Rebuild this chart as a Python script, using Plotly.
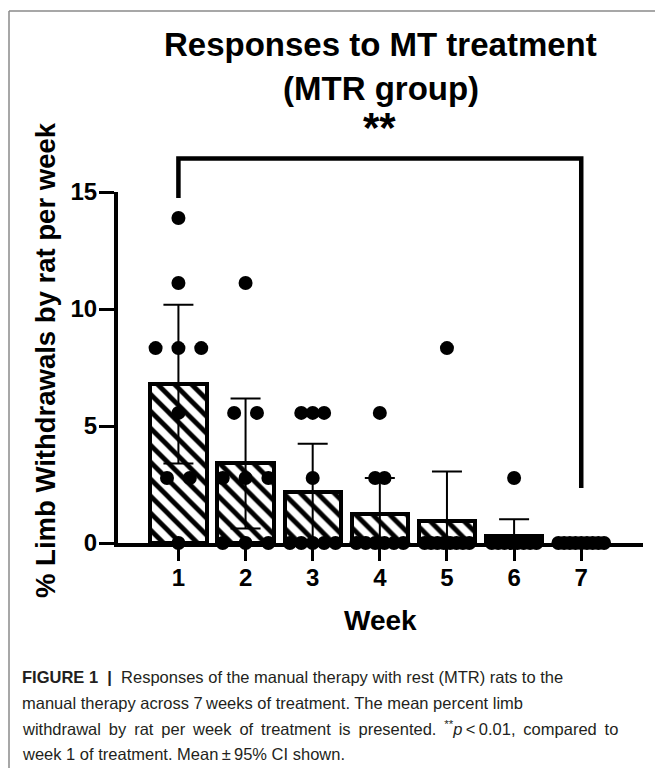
import plotly.graph_objects as go

# ---------------- data ----------------
weeks = [1, 2, 3, 4, 5, 6, 7]
week_labels = ["1", "2", "3", "4", "5", "6", "7"]
# individual rat values (% limb withdrawals) per week
rats_w1 = [13.89, 11.11, 8.33, 8.33, 8.33, 5.56, 2.78, 2.78, 0]
rats_w2 = [11.11, 5.56, 5.56, 2.78, 2.78, 2.78, 0, 0, 0]
rats_w3 = [5.56, 5.56, 5.56, 2.78, 0, 0, 0, 0, 0]
rats_w4 = [5.56, 2.78, 2.78, 0, 0, 0, 0, 0, 0]
rats_w5 = [8.33, 0, 0, 0, 0, 0, 0, 0, 0]
rats_w6 = [2.78, 0, 0, 0, 0, 0, 0, 0, 0]
rats_w7 = [0, 0, 0, 0, 0, 0, 0, 0, 0]
rats = [rats_w1, rats_w2, rats_w3, rats_w4, rats_w5, rats_w6, rats_w7]
# bar means and 95% CI half widths
means = [6.79, 3.40, 2.16, 1.23, 0.93, 0.31, 0.0]
ci95 = [3.39, 2.78, 2.08, 1.55, 2.13, 0.71, 0.0]
y_ticks = [0, 5, 10, 15]
y_tick_labels = ["0", "5", "10", "15"]
sig_label = "**"

# ---------------- layout geometry ----------------
W, H = 655, 768
L, R, T, B = 118, 12, 192, 225
PW = W - L - R
PH = H - T - B
B_PIX = H - B


def px_x(px):
    return (px - L) / PW


def px_y(py):
    return (B_PIX - py) / PH


XR = [0.10, 7.92]
YR = [0, 15]

# horizontal spread of the dots (scatter-dot layout step per week, in category units)
spread = [0.34, 0.34, 0.17, 0.14, 0.095, 0.095, 0.085]

px_list, py_list = [], []
for w, vals, st in zip(weeks, rats, spread):
    groups = {}
    for v in vals:
        groups.setdefault(v, 0)
        groups[v] += 1
    for v, n in groups.items():
        for i in range(n):
            px_list.append(w + (i - (n - 1) / 2) * st)
            py_list.append(v)

FONT = "Liberation Sans, Arial, Helvetica, sans-serif"

fig = go.Figure()
fig.add_trace(go.Bar(
    x=weeks, y=means, width=0.84,
    marker=dict(color="white", line=dict(color="black", width=4),
                pattern=dict(shape="\\", fgcolor="#000000", bgcolor="#ffffff",
                             fgopacity=1, size=12, solidity=0.4,
                             fillmode="replace")),
    error_y=dict(type="data", array=ci95, visible=True, color="black",
                 thickness=2, width=15),
    showlegend=False,
))
fig.add_trace(go.Scatter(
    x=px_list, y=py_list, mode="markers",
    marker=dict(color="black", size=14, line=dict(width=0)),
    cliponaxis=False, showlegend=False,
))

shapes = []
# significance bracket
y_top = 16.43 / YR[1]
shapes.append(dict(type="path", xref="x", yref="paper",
                   path=f"M 1,{14.74 / YR[1]} L 1,{y_top} L 7,{y_top} L 7,{2.35 / YR[1]}",
                   line=dict(color="black", width=4.5)))
# gray figure frame (top and left)
shapes.append(dict(type="line", xref="paper", yref="paper",
                   x0=px_x(9), x1=px_x(656), y0=px_y(11), y1=px_y(11),
                   line=dict(color="#8a8a8a", width=1.5)))
shapes.append(dict(type="line", xref="paper", yref="paper",
                   x0=px_x(9), x1=px_x(9), y0=px_y(11), y1=px_y(769),
                   line=dict(color="#8a8a8a", width=1.5)))

annotations = [
    dict(text="<b>Responses to MT treatment</b>", x=0.5, y=px_y(44),
         font=dict(size=33, family=FONT, color="black")),
    dict(text="<b>(MTR group)</b>", x=0.5, y=px_y(88),
         font=dict(size=33, family=FONT, color="black")),
    dict(text=f"<b>{sig_label}</b>", x=4, xref="x", y=px_y(128),
         font=dict(size=42, family=FONT, color="black")),
    dict(text="<b>% Limb Withdrawals by rat per week</b>", x=px_x(45), y=px_y(360),
         textangle=-90, font=dict(size=27.5, family=FONT, color="black")),
    dict(text="<b>Week</b>", x=0.5, y=px_y(620),
         font=dict(size=28, family=FONT, color="black")),
]
S = " \u2009"
caption = [
    "<b>FIGURE 1</b>  <b>|</b>  Responses of the manual therapy with rest (MTR) rats to the",
    "manual therapy across 7\u2009weeks of treatment. The mean percent limb",
    S.join(["withdrawal", "by", "rat", "per", "week", "of", "treatment", "is", "presented.",
            "<sup>**</sup><i>p</i>\u2009<\u20090.01,", "compared", "to"]),
    "week 1 of treatment. Mean\u2009±\u200995% CI shown.",
]
for i, line in enumerate(caption):
    annotations.append(dict(text=line, x=px_x(20), xanchor="left",
                            y=px_y(677 + 25.7 * i),
                            font=dict(size=16.5, family=FONT, color="#231f20")))
for a in annotations:
    a.setdefault("xref", "paper")
    a["yref"] = "paper"
    a.setdefault("yanchor", "middle")
    a.setdefault("xanchor", "center")
    a["showarrow"] = False

fig.update_layout(
    width=W, height=H,
    margin=dict(l=L, r=R, t=T, b=B, pad=0),
    paper_bgcolor="white", plot_bgcolor="white",
    shapes=shapes, annotations=annotations,
    bargap=0,
    xaxis=dict(range=XR, tickvals=weeks, ticktext=week_labels,
               showline=True, linecolor="black", linewidth=4,
               ticks="outside", ticklen=14, tickwidth=3, tickcolor="black",
               ticklabelstandoff=-4,
               showgrid=False, zeroline=False,
               tickfont=dict(size=24, family=FONT, color="black", weight="bold")),
    yaxis=dict(range=YR, tickvals=y_ticks, ticktext=y_tick_labels,
               showline=True, linecolor="black", linewidth=4,
               ticks="outside", ticklen=15, tickwidth=3, tickcolor="black",
               ticklabelstandoff=-3,
               showgrid=False, zeroline=False,
               tickfont=dict(size=24, family=FONT, color="black", weight="bold")),
)

fig.write_html("out.html", config={"displayModeBar": False},
               post_script="document.body.style.margin='0';document.body.style.overflow='hidden';")
